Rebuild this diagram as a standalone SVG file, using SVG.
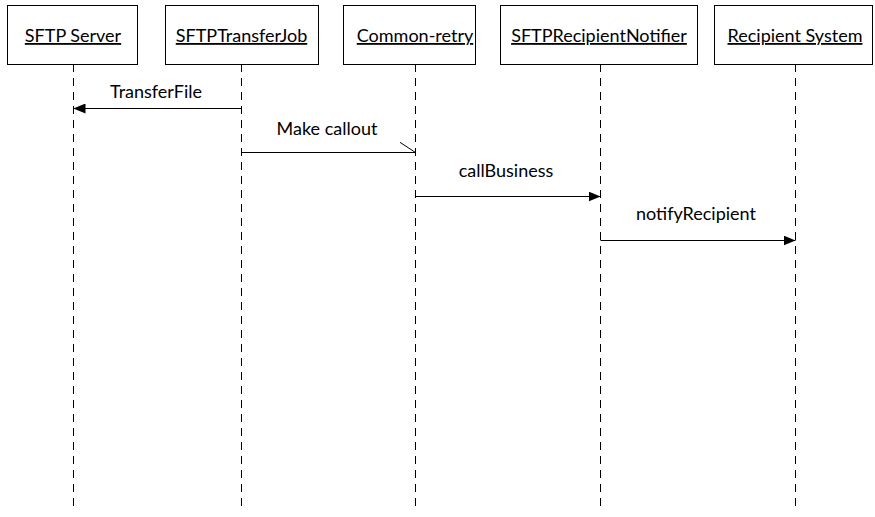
<svg xmlns="http://www.w3.org/2000/svg" width="875" height="517" viewBox="0 0 875 517">
  <style>
    .box { fill: #ffffff; stroke: #000000; stroke-width: 1; }
    .life { stroke: #000000; stroke-width: 1; stroke-dasharray: 8 6; fill: none; }
    .msg { stroke: #000000; stroke-width: 1; fill: none; }
    .name { font-family: Lato, "Liberation Sans", Arial, sans-serif; font-size: 18px; fill: #000000; text-anchor: middle; text-decoration: underline; }
    .label { font-family: Lato, "Liberation Sans", Arial, sans-serif; font-size: 18px; fill: #000000; text-anchor: middle; }
  </style>
  <defs>
    <marker id="solid" viewBox="0 0 12 10" refX="12" refY="5" markerWidth="12" markerHeight="10" markerUnits="userSpaceOnUse" orient="auto">
      <path d="M0,0 L12,5 L0,10 Z" fill="#000000"/>
    </marker>
    <marker id="half" viewBox="0 0 17 11" refX="16" refY="10.5" markerWidth="17" markerHeight="11" markerUnits="userSpaceOnUse" orient="auto">
      <path d="M0,0 L16,10.5" stroke="#000000" stroke-width="1" fill="none"/>
    </marker>
  </defs>

  <!-- lifelines -->
  <g id="lifelines">
    <line class="life" x1="73.5" y1="64" x2="73.5" y2="512"/>
    <line class="life" x1="241.5" y1="64" x2="241.5" y2="512"/>
    <line class="life" x1="415.5" y1="64" x2="415.5" y2="512"/>
    <line class="life" x1="600.5" y1="64" x2="600.5" y2="512"/>
    <line class="life" x1="795.5" y1="64" x2="795.5" y2="512"/>
  </g>

  <!-- participants -->
  <g id="sftp-server">
    <rect class="box" x="7.5" y="5.5" width="130" height="59"/>
    <text class="name" x="73" y="42">SFTP Server</text>
  </g>
  <g id="sftp-transfer-job">
    <rect class="box" x="165.5" y="5.5" width="153" height="59"/>
    <text class="name" x="241.5" y="42">SFTPTransferJob</text>
  </g>
  <g id="common-retry">
    <rect class="box" x="343.5" y="5.5" width="132" height="59"/>
    <text class="name" x="415" y="42">Common-retry</text>
  </g>
  <g id="sftp-recipient-notifier">
    <rect class="box" x="500.5" y="5.5" width="197" height="59"/>
    <text class="name" x="599" y="42">SFTPRecipientNotifier</text>
  </g>
  <g id="recipient-system">
    <rect class="box" x="714.5" y="5.5" width="158" height="59"/>
    <text class="name" x="795" y="42">Recipient System</text>
  </g>

  <!-- messages -->
  <g id="connectors">
    <line class="msg" x1="241.5" y1="108.5" x2="73.5" y2="108.5" marker-end="url(#solid)"/>
    <text class="label" x="156" y="98">TransferFile</text>

    <line class="msg" x1="241.5" y1="152.5" x2="415.5" y2="152.5" marker-end="url(#half)"/>
    <text class="label" x="327" y="135">Make callout</text>

    <line class="msg" x1="415.5" y1="196.5" x2="600.5" y2="196.5" marker-end="url(#solid)"/>
    <text class="label" x="506" y="177">callBusiness</text>

    <line class="msg" x1="600.5" y1="240.5" x2="795.5" y2="240.5" marker-end="url(#solid)"/>
    <text class="label" x="696" y="220">notifyRecipient</text>
  </g>
</svg>
